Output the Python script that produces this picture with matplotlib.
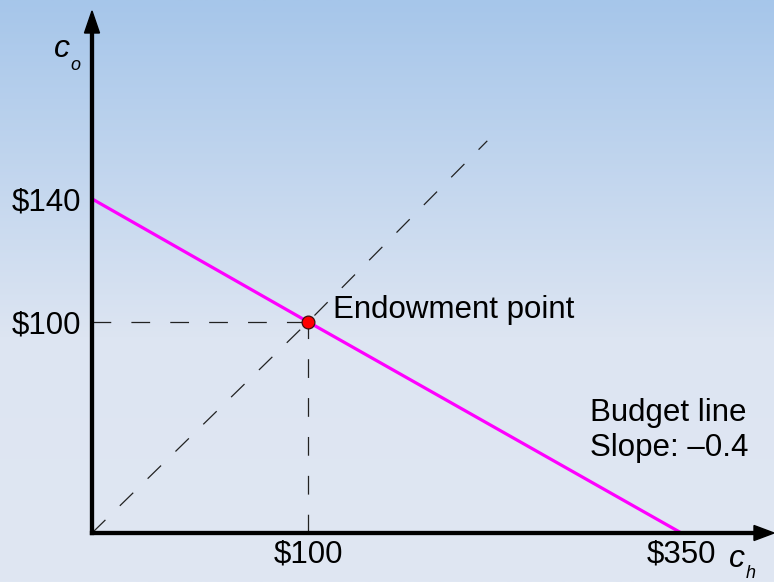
import numpy as np
import matplotlib
matplotlib.use('Agg')
import matplotlib.pyplot as plt
from matplotlib.colors import LinearSegmentedColormap

plt.rcParams['font.family'] = ['Liberation Sans', 'DejaVu Sans']
plt.rcParams['lines.scale_dashes'] = False

# ---- data ----
budget_x = [0, 100, 350]
budget_y = [140, 100, 0]
endow_x = [100]
endow_y = [100]
certainty = [0, 100, 220]
xtick_vals = [100, 350]
xtick_labels = ['$100', '$350']
ytick_vals = [100, 140]
ytick_labels = ['$100', '$140']

# schematic (non-proportional) axis mapping: data value -> pixel distance from origin
x_knots = [0, 100, 350, 500]
x_px = [0, 216, 589, 813]
y_knots = [0, 100, 140, 220, 500]
y_px = [0, 211, 334, 392, 595]


def fx(v):
    return np.interp(v, x_knots, x_px)


def fx_inv(p):
    return np.interp(p, x_px, x_knots)


def fy(v):
    return np.interp(v, y_knots, y_px)


def fy_inv(p):
    return np.interp(p, y_px, y_knots)


W, H = 774, 582
fig = plt.figure(figsize=(W / 100, H / 100), dpi=100)

# gradient background
bg = fig.add_axes([0, 0, 1, 1], zorder=-10)
cmap = LinearSegmentedColormap.from_list(
    'bg', [(0.0, '#a6c6ea'), (0.58, '#dde5f2'), (1.0, '#e0e7f3')])
grad = np.linspace(0, 1, 256).reshape(-1, 1)
bg.imshow(grad, aspect='auto', cmap=cmap, extent=[0, 1, 0, 1], origin='upper')
bg.set_axis_off()

ox, oy = 92, 533
ax = fig.add_axes([ox / W, (H - oy) / H, (W - ox) / W, (oy - 11) / H])
ax.set_facecolor('none')
ax.set_xscale('function', functions=(fx, fx_inv))
ax.set_yscale('function', functions=(fy, fy_inv))
ax.set_xlim(0, 412)
ax.set_ylim(0, 399)
for s in ax.spines.values():
    s.set_visible(False)

axw, axh = W - ox, oy - 11

# dashed guide lines
dash = dict(color='#222222', lw=0.9, dashes=(13.5, 14.5))
ax.plot(certainty, certainty, **dash)
ax.plot([0, endow_x[0]], [endow_y[0], endow_y[0]], **dash)
ax.plot([endow_x[0], endow_x[0]], [0, endow_y[0]], **dash)

# budget line
ax.plot(budget_x, budget_y, color='#ff00ff', lw=2.3, solid_capstyle='butt', zorder=4)

# endowment point
ax.plot(endow_x, endow_y, 'o', ms=9.2, mfc='#ff0000', mec='#3a1010', mew=0.9, zorder=5)

# axes with arrows
ax.plot([0, 1 - 15 / axw], [0, 0], transform=ax.transAxes, color='black', lw=3.1,
        solid_capstyle='projecting', clip_on=False, zorder=6)
ax.plot([0, 0], [0, 1 - 18 / axh], transform=ax.transAxes, color='black', lw=3.1,
        solid_capstyle='projecting', clip_on=False, zorder=6)
ax.fill([1, 1 - 20 / axw, 1 - 20 / axw], [0, 7.5 / axh, -7.5 / axh],
        transform=ax.transAxes, color='black', clip_on=False, zorder=6)
ax.fill([0, -7.5 / axw, 7.5 / axw], [1, 1 - 22 / axh, 1 - 22 / axh],
        transform=ax.transAxes, color='black', clip_on=False, zorder=6)

FS = 22.5

# ticks
ax.set_xticks(xtick_vals, xtick_labels)
ax.set_yticks(ytick_vals, ytick_labels)
ax.tick_params(axis='both', length=0, labelsize=FS, colors='black')
ax.tick_params(axis='x', pad=5)
ax.tick_params(axis='y', pad=8)

# annotations
ax.annotate('Endowment point', xy=(endow_x[0], endow_y[0]), xytext=(25, 12),
            textcoords='offset pixels', fontsize=FS, ha='left', va='center')
fig.text(590 / W, 1 - 413 / H, 'Budget line', fontsize=FS, ha='left', va='center')
fig.text(590 / W, 1 - 448 / H, 'Slope: \u20130.4', fontsize=FS, ha='left', va='center')

# axis labels
fig.text(62 / W, 1 - 49 / H, 'c', fontsize=23, style='italic', ha='center', va='center')
fig.text(75 / W, 1 - 66 / H, 'o', fontsize=13, style='italic', ha='center', va='center')
fig.text(737 / W, 1 - 559 / H, 'c', fontsize=23, style='italic', ha='center', va='center')
fig.text(751 / W, 1 - 573 / H, 'h', fontsize=13, style='italic', ha='center', va='center')

fig.savefig('out.png', dpi=100)
